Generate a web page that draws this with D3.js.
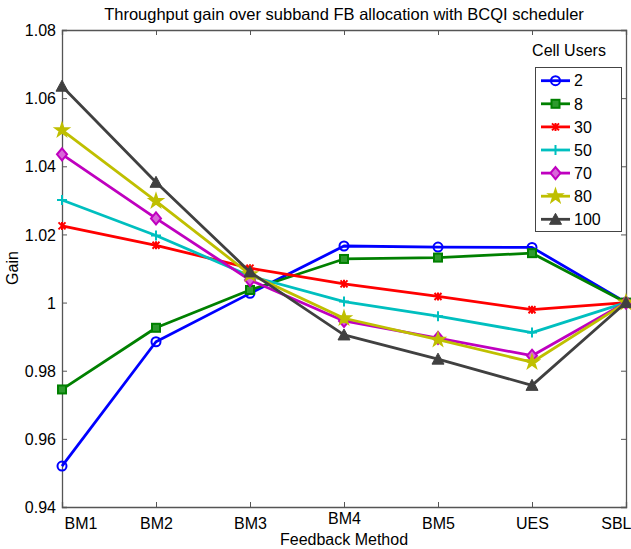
<!DOCTYPE html>
<html>
<head>
<meta charset="utf-8">
<script src="https://cdn.jsdelivr.net/npm/d3@7"></script>
<style>
  html, body { margin: 0; padding: 0; background: #fff; }
  svg text { font-family: "Liberation Sans", Arial, Helvetica, sans-serif; fill: #000; }
</style>
</head>
<body>
<svg id="chart" width="631" height="549"></svg>
<script>
// Feedback methods along the x axis
const methods = ["BM1", "BM2", "BM3", "BM4", "BM5", "UES", "SBL"];
// Number of users in the cell, one series each
const cellUsers = ["2", "8", "30", "50", "70", "80", "100"];
// Throughput gain over subband FB allocation, per method
const gain2   = [0.952, 0.9885, 1.0027, 1.0166, 1.0163, 1.0162, 1.0];
const gain8   = [0.9745, 0.9926, 1.0037, 1.0128, 1.0132, 1.0145, 1.0];
const gain30  = [1.0225, 1.0168, 1.0101, 1.0055, 1.0018, 0.9979, 1.0];
const gain50  = [1.0301, 1.0197, 1.0078, 1.0003, 0.9960, 0.9912, 1.0];
const gain70  = [1.0435, 1.0247, 1.0066, 0.9946, 0.9896, 0.9844, 1.0];
const gain80  = [1.0506, 1.0298, 1.0083, 0.9954, 0.9891, 0.9825, 1.0];
const gain100 = [1.0635, 1.0353, 1.0090, 0.9905, 0.9834, 0.9757, 1.0];
// Axis ticks
const yTicks = [0.94, 0.96, 0.98, 1.0, 1.02, 1.04, 1.06, 1.08];

const seriesValues = [gain2, gain8, gain30, gain50, gain70, gain80, gain100];
const colors  = ["#0000ff", "#008000", "#ff0000", "#00bfbf", "#bf00bf", "#bfbf00", "#404040"];
const markers = ["circle", "square", "asterisk", "plus", "diamond", "star", "triangle"];

const FS = 16;
const svg = d3.select("#chart");
const margin = { left: 62, right: 5, top: 30, bottom: 42 };
const W = 631, H = 549;
const x = d3.scalePoint().domain(methods).range([margin.left, W - margin.right]);
const y = d3.scaleLinear().domain([0.94, 1.08]).range([H - margin.bottom, margin.top]);

const xL = margin.left, xR = W - margin.right, yB = H - margin.bottom, yT = margin.top;

// Title
svg.append("text")
  .attr("x", (xL + xR) / 2).attr("y", 20)
  .attr("text-anchor", "middle").attr("font-size", 16.5)
  .text("Throughput gain over subband FB allocation with BCQI scheduler");

// Axes with inward ticks on all four sides
const axisColor = "#555";
const axLeft = svg.append("g").attr("transform", `translate(${xL},0)`)
  .call(d3.axisLeft(y).tickValues(yTicks).tickSize(-5).tickPadding(6)
    .tickFormat(d => d === 1 ? "1" : d3.format(".2f")(d)));
const axRight = svg.append("g").attr("transform", `translate(${xR},0)`)
  .call(d3.axisRight(y).tickValues(yTicks).tickSize(-5).tickFormat(""));
const axBottom = svg.append("g").attr("transform", `translate(0,${yB})`)
  .call(d3.axisBottom(x).tickSize(-5).tickPadding(8));
const axTop = svg.append("g").attr("transform", `translate(0,${yT})`)
  .call(d3.axisTop(x).tickSize(-5).tickFormat(""));

[axLeft, axRight, axBottom, axTop].forEach(g => {
  g.select(".domain").attr("stroke", axisColor).attr("stroke-width", 1.3);
  g.selectAll(".tick line").attr("stroke", axisColor).attr("stroke-width", 1);
  g.selectAll("text").attr("font-size", FS).attr("fill", "#000")
    .style("font-family", '"Liberation Sans", Arial, sans-serif');
});
axLeft.selectAll(".tick text").attr("dy", "0.35em");
// Edge labels are kept inside the figure
axBottom.selectAll(".tick text")
  .attr("dy", "0.88em")
  .each(function(d, i) {
    const t = d3.select(this);
    if (i === 0) t.attr("text-anchor", "start").attr("x", 2);
    if (i === methods.length - 1) t.attr("text-anchor", "end").attr("x", W - xR);
    if (d === "BM4") t.attr("dy", "0.55em");
  });

// Axis titles
svg.append("text").attr("x", (xL + xR) / 2).attr("y", 545)
  .attr("text-anchor", "middle").attr("font-size", FS).text("Feedback Method");
svg.append("text").attr("transform", "translate(18,268) rotate(-90)")
  .attr("text-anchor", "middle").attr("font-size", FS).text("Gain");

// Marker drawing
function drawMarker(g, type, color) {
  const sw = 2;
  switch (type) {
    case "circle":
      g.append("circle").attr("r", 4.5).attr("fill", "none").attr("stroke", color).attr("stroke-width", sw);
      break;
    case "square":
      g.append("rect").attr("x", -4).attr("y", -4).attr("width", 8).attr("height", 8)
        .attr("fill", "#2e9a2e").attr("stroke", color).attr("stroke-width", sw);
      break;
    case "asterisk":
      g.append("path").attr("d", "M-3.5,-3.5L3.5,3.5M-3.5,3.5L3.5,-3.5M0,-4L0,4")
        .attr("stroke", color).attr("stroke-width", sw);
      break;
    case "plus":
      g.append("path").attr("d", "M0,-5L0,5M-5,0L5,0").attr("stroke", color).attr("stroke-width", sw);
      break;
    case "diamond":
      g.append("path").attr("d", "M0,-6L5,0L0,6L-5,0Z")
        .attr("fill", "#d866d8").attr("stroke", color).attr("stroke-width", sw);
      break;
    case "star":
      g.append("path").attr("d", d3.symbol().type(d3.symbolStar).size(60)())
        .attr("fill", color).attr("stroke", color).attr("stroke-width", 1.5);
      break;
    case "triangle":
      g.append("path").attr("d", "M0,-6L6,5L-6,5Z")
        .attr("fill", color).attr("stroke", color).attr("stroke-width", 1);
      break;
  }
}

const line = d3.line().x((d, i) => x(methods[i])).y(d => y(d));

seriesValues.forEach((vals, s) => {
  const g = svg.append("g");
  g.append("path").attr("d", line(vals)).attr("fill", "none")
    .attr("stroke", colors[s]).attr("stroke-width", 2.8).attr("stroke-linejoin", "round");
  vals.forEach((v, i) => {
    const m = g.append("g").attr("transform", `translate(${x(methods[i])},${y(v)})`);
    drawMarker(m, markers[s], colors[s]);
  });
});

// Legend
svg.append("text").attr("x", 569).attr("y", 56).attr("text-anchor", "middle")
  .attr("font-size", FS).text("Cell Users");
const lg = svg.append("g");
lg.append("rect").attr("x", 535.5).attr("y", 67.5).attr("width", 86).attr("height", 164)
  .attr("fill", "#fff").attr("stroke", "#444").attr("stroke-width", 1);
cellUsers.forEach((label, s) => {
  const cy = 80.7 + s * 23.1;
  lg.append("line").attr("x1", 541).attr("x2", 570).attr("y1", cy).attr("y2", cy)
    .attr("stroke", colors[s]).attr("stroke-width", 2.8);
  drawMarker(lg.append("g").attr("transform", `translate(555.5,${cy})`), markers[s], colors[s]);
  lg.append("text").attr("x", 574).attr("y", cy).attr("dy", "0.36em")
    .attr("font-size", FS).text(label);
});
</script>
</body>
</html>
